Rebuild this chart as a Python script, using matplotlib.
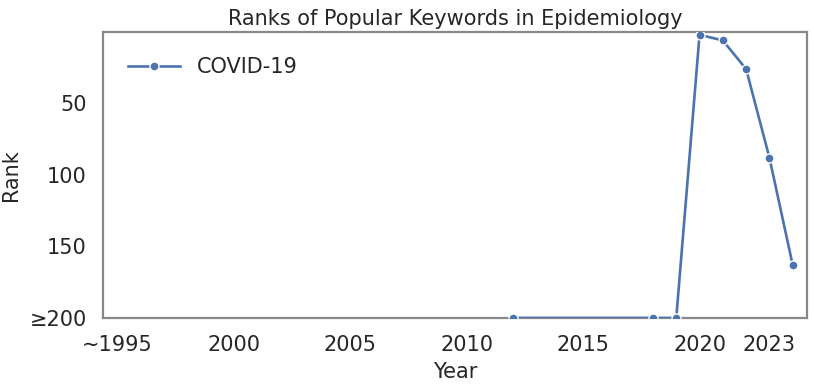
import matplotlib
matplotlib.use("Agg")
import matplotlib.pyplot as plt

years = [2012, 2018, 2019, 2020, 2021, 2022, 2023, 2024]
ranks = [200, 200, 200, 2, 6, 26, 88, 163]
series_name = "COVID-19"
xticks = [1995, 2000, 2005, 2010, 2015, 2020, 2023]
xticklabels = ["\u223c1995", "2000", "2005", "2010", "2015", "2020", "2023"]
yticks = [50, 100, 150, 200]
yticklabels = ["50", "100", "150", "\u2265200"]

plt.rcParams["font.family"] = ["DejaVu Sans"]
txt = "#262626"

fig = plt.figure(figsize=(8.14, 3.84), dpi=100)
ax = fig.add_axes([0.127, 0.172, 0.864, 0.745])
ax.plot(years, ranks, color="#4c72b0", lw=1.9, marker="o", ms=6.5,
        markeredgecolor="white", markeredgewidth=1, label=series_name, zorder=3)
ax.set_xlim(1994.4, 2024.6)
ax.set_ylim(200, 0)
ax.set_xticks(xticks)
ax.set_xticklabels(xticklabels)
ax.set_yticks(yticks)
ax.set_yticklabels(yticklabels)
ax.tick_params(axis="x", length=0, labelsize=15, colors=txt, pad=12)
ax.tick_params(axis="y", length=0, labelsize=15, colors=txt, pad=12)
for s in ax.spines.values():
    s.set_color("#888888")
    s.set_linewidth(1.6)
ax.set_xlabel("Year", fontsize=15, color=txt, labelpad=5)
ax.set_ylabel("Rank", fontsize=15, color=txt)
ax.yaxis.set_label_coords(-0.117, 0.5)
ax.set_title("Ranks of Popular Keywords in Epidemiology", fontsize=15, color=txt, pad=5)
leg = ax.legend(loc="upper left", frameon=False, fontsize=15, handlelength=2.5,
                borderaxespad=0.8)
for t in leg.get_texts():
    t.set_color(txt)
fig.savefig("out.png", dpi=100)
